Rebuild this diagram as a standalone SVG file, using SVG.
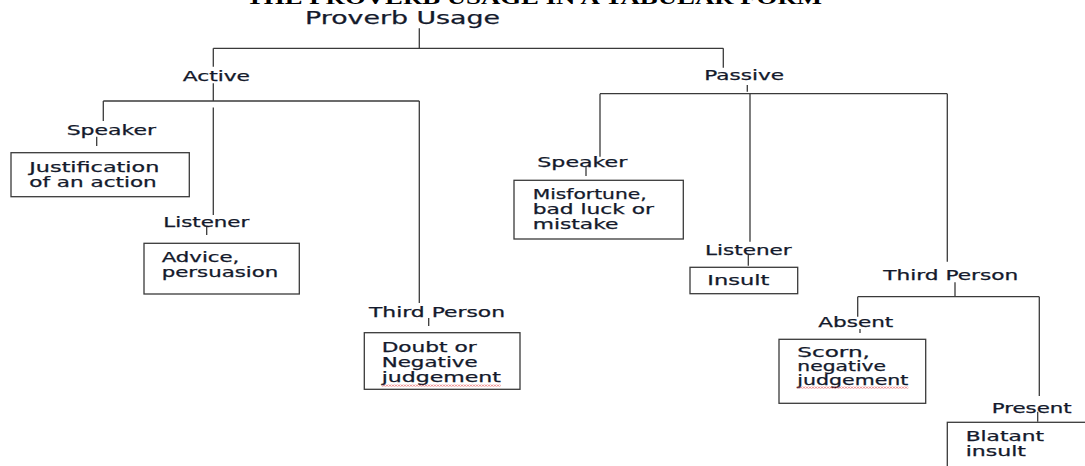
<svg xmlns="http://www.w3.org/2000/svg" width="1085" height="466" viewBox="0 0 1085 466">
<defs>
<style>
.t{font-family:"DejaVu Sans",Verdana,sans-serif;font-size:13.5px;fill:#141a2c;stroke:#141a2c;stroke-width:0.25}
.big{font-size:17px}
.title{font-family:"Liberation Serif","Times New Roman",serif;font-weight:bold;font-size:18px;fill:#000}
.box{fill:#fff;stroke:#3a3a3a;stroke-width:1.3}
.c line{stroke:#3a3a3a;stroke-width:1.3}
</style>
<pattern id="sq" width="3" height="2" patternUnits="userSpaceOnUse">
<path d="M0 1.6 L1.5 0.4 L3 1.6" fill="none" stroke="#e03030" stroke-width="0.7"/>
</pattern>
</defs>
<rect width="1085" height="466" fill="#fff"/>
<text class="title" x="246" y="4" textLength="576" lengthAdjust="spacingAndGlyphs">THE PROVERB USAGE IN A TABULAR FORM</text>
<g class="c" id="connectors">
<line x1="419.3" y1="28.3" x2="419.3" y2="48.3"/>
<line x1="213.3" y1="48.3" x2="723.3" y2="48.3"/>
<line x1="213.3" y1="48.3" x2="213.3" y2="66.7"/>
<line x1="723.3" y1="48.3" x2="723.3" y2="67.7"/>
<line x1="213.3" y1="83.3" x2="213.3" y2="101"/>
<line x1="103.3" y1="101" x2="419.3" y2="101"/>
<line x1="103.3" y1="101" x2="103.3" y2="121"/>
<line x1="213.3" y1="107.5" x2="213.3" y2="215"/>
<line x1="419.3" y1="101" x2="419.3" y2="303"/>
<line x1="96.7" y1="136.7" x2="96.7" y2="146"/>
<line x1="206.7" y1="226.7" x2="206.7" y2="235"/>
<line x1="428.7" y1="318" x2="428.7" y2="326"/>
<line x1="747.3" y1="85" x2="747.3" y2="91.7"/>
<line x1="600" y1="93.7" x2="947.3" y2="93.7"/>
<line x1="600" y1="93.7" x2="600" y2="156.7"/>
<line x1="750" y1="93.7" x2="750" y2="241.7"/>
<line x1="947.3" y1="93.7" x2="947.3" y2="261.7"/>
<line x1="586" y1="166.7" x2="586" y2="176"/>
<line x1="748.3" y1="255" x2="748.3" y2="265.7"/>
<line x1="955" y1="282.3" x2="955" y2="296.7"/>
<line x1="857.7" y1="296.7" x2="1039.3" y2="296.7"/>
<line x1="857.7" y1="296.7" x2="857.7" y2="316.7"/>
<line x1="1039.3" y1="296.7" x2="1039.3" y2="396"/>
<line x1="860" y1="329" x2="860" y2="333"/>
<line x1="1037.7" y1="411.7" x2="1037.7" y2="421.7"/>
</g>
<g id="root"><text class="t big" x="305" y="24" textLength="195" lengthAdjust="spacingAndGlyphs">Proverb Usage</text></g>
<g id="active"><text class="t" x="182.7" y="81" textLength="67.3" lengthAdjust="spacingAndGlyphs">Active</text></g>
<g id="passive"><text class="t" x="704.3" y="80" textLength="79.7" lengthAdjust="spacingAndGlyphs">Passive</text></g>
<g id="a-speaker"><text class="t" x="66.7" y="135" textLength="89.3" lengthAdjust="spacingAndGlyphs">Speaker</text></g>
<g id="a-speaker-box">
<rect class="box" x="11" y="152.7" width="178.3" height="44"/>
<text class="t" x="29.3" y="171.7" textLength="130" lengthAdjust="spacingAndGlyphs">Justification</text>
<text class="t" x="29.3" y="186.7" textLength="127.4" lengthAdjust="spacingAndGlyphs">of an action</text>
</g>
<g id="a-listener"><text class="t" x="163.3" y="226.7" textLength="86" lengthAdjust="spacingAndGlyphs">Listener</text></g>
<g id="a-listener-box">
<rect class="box" x="144" y="243.3" width="155.3" height="50.7"/>
<text class="t" x="161.7" y="261.7" textLength="77.7" lengthAdjust="spacingAndGlyphs">Advice,</text>
<text class="t" x="161.7" y="276.7" textLength="116.6" lengthAdjust="spacingAndGlyphs">persuasion</text>
</g>
<g id="a-third"><text class="t" x="369" y="317.3" textLength="136" lengthAdjust="spacingAndGlyphs">Third Person</text></g>
<g id="a-third-box">
<rect class="box" x="364.3" y="332.7" width="155.7" height="56.6"/>
<text class="t" x="381.7" y="351.7" textLength="95" lengthAdjust="spacingAndGlyphs">Doubt or</text>
<text class="t" x="381.7" y="366.7" textLength="96" lengthAdjust="spacingAndGlyphs">Negative</text>
<text class="t" x="381.7" y="381.7" textLength="119.3" lengthAdjust="spacingAndGlyphs">judgement</text>
<rect x="381.7" y="384.6" width="119" height="2" fill="url(#sq)"/>
</g>
<g id="p-speaker"><text class="t" x="537.3" y="166.7" textLength="90" lengthAdjust="spacingAndGlyphs">Speaker</text></g>
<g id="p-speaker-box">
<rect class="box" x="514" y="180.3" width="169.3" height="58.7"/>
<text class="t" x="532.7" y="199.3" textLength="114" lengthAdjust="spacingAndGlyphs">Misfortune,</text>
<text class="t" x="532.7" y="214.3" textLength="121.3" lengthAdjust="spacingAndGlyphs">bad luck or</text>
<text class="t" x="532.7" y="229.3" textLength="85.7" lengthAdjust="spacingAndGlyphs">mistake</text>
</g>
<g id="p-listener"><text class="t" x="705" y="255" textLength="86.7" lengthAdjust="spacingAndGlyphs">Listener</text></g>
<g id="p-listener-box">
<rect class="box" x="690" y="267.3" width="107.7" height="26.4"/>
<text class="t" x="707.3" y="285" textLength="62" lengthAdjust="spacingAndGlyphs">Insult</text>
</g>
<g id="p-third"><text class="t" x="883.3" y="280" textLength="135" lengthAdjust="spacingAndGlyphs">Third Person</text></g>
<g id="p-absent"><text class="t" x="818.3" y="327.3" textLength="75" lengthAdjust="spacingAndGlyphs">Absent</text></g>
<g id="p-absent-box">
<rect class="box" x="779" y="339.3" width="146.7" height="64"/>
<text class="t" x="797.3" y="356.7" textLength="72.7" lengthAdjust="spacingAndGlyphs">Scorn,</text>
<text class="t" x="797.3" y="371" textLength="88.7" lengthAdjust="spacingAndGlyphs">negative</text>
<text class="t" x="797.3" y="385.3" textLength="111" lengthAdjust="spacingAndGlyphs">judgement</text>
<rect x="797.3" y="386.6" width="111" height="2" fill="url(#sq)"/>
</g>
<g id="p-present"><text class="t" x="991.7" y="413.3" textLength="80" lengthAdjust="spacingAndGlyphs">Present</text></g>
<g id="p-present-box">
<rect class="box" x="947.3" y="422.3" width="200" height="100"/>
<text class="t" x="965.7" y="440.7" textLength="78.3" lengthAdjust="spacingAndGlyphs">Blatant</text>
<text class="t" x="965.7" y="455.7" textLength="60.3" lengthAdjust="spacingAndGlyphs">insult</text>
</g>
</svg>
